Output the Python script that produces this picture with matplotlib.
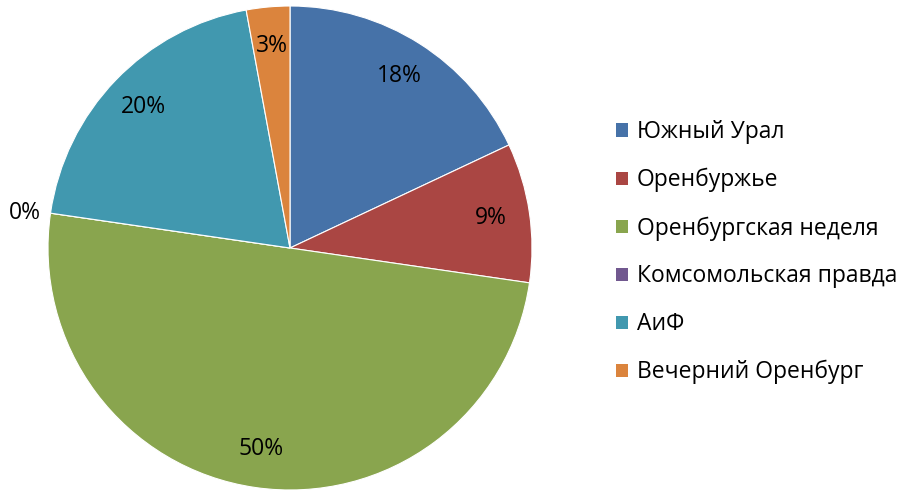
import matplotlib
matplotlib.use('Agg')
import matplotlib.pyplot as plt
from matplotlib.patches import Rectangle

plt.rcParams['font.family'] = ['Open Sans', 'DejaVu Sans']

# Data (share of readers, %)
labels = ['Южный Урал', 'Оренбуржье', 'Оренбургская неделя',
          'Комсомольская правда', 'АиФ', 'Вечерний Оренбург']
values = [18.0, 9.3, 50.0, 0.0, 19.8, 2.9]
colors = ['#4672A8', '#AA4643', '#89A54E', '#71588F', '#4198AF', '#DB843D']

fs = 16.5

fig = plt.figure(figsize=(9.03, 4.9), dpi=100)
ax = fig.add_axes([48 / 903, 0.0, 484 / 903, 484 / 490])

wedges, texts, autotexts = ax.pie(values, colors=colors, startangle=90,
                                  counterclock=False, radius=1.0,
                                  autopct='%.0f%%', pctdistance=0.84,
                                  wedgeprops=dict(edgecolor='white', linewidth=0.8),
                                  textprops=dict(fontsize=fs, color='black'))
ax.set_xlim(-1, 1)
ax.set_ylim(-1, 1)
ax.set_aspect('equal')

# zero slice label sits outside, left of the pie
for t, v in zip(autotexts, values):
    if v == 0:
        t.set_position((-1.03, 0.145))
        t.set_ha('right')

handles = [Rectangle((0, 0), 1, 1, facecolor=c, edgecolor='none') for c in colors]
fig.legend(handles, labels, loc='upper left', bbox_to_anchor=(607 / 903, 1 - 111 / 490),
           frameon=False, fontsize=fs, labelspacing=1.04, handlelength=0.5,
           handleheight=0.5, handletextpad=0.4, borderaxespad=0)

fig.savefig('out.png', dpi=100)
